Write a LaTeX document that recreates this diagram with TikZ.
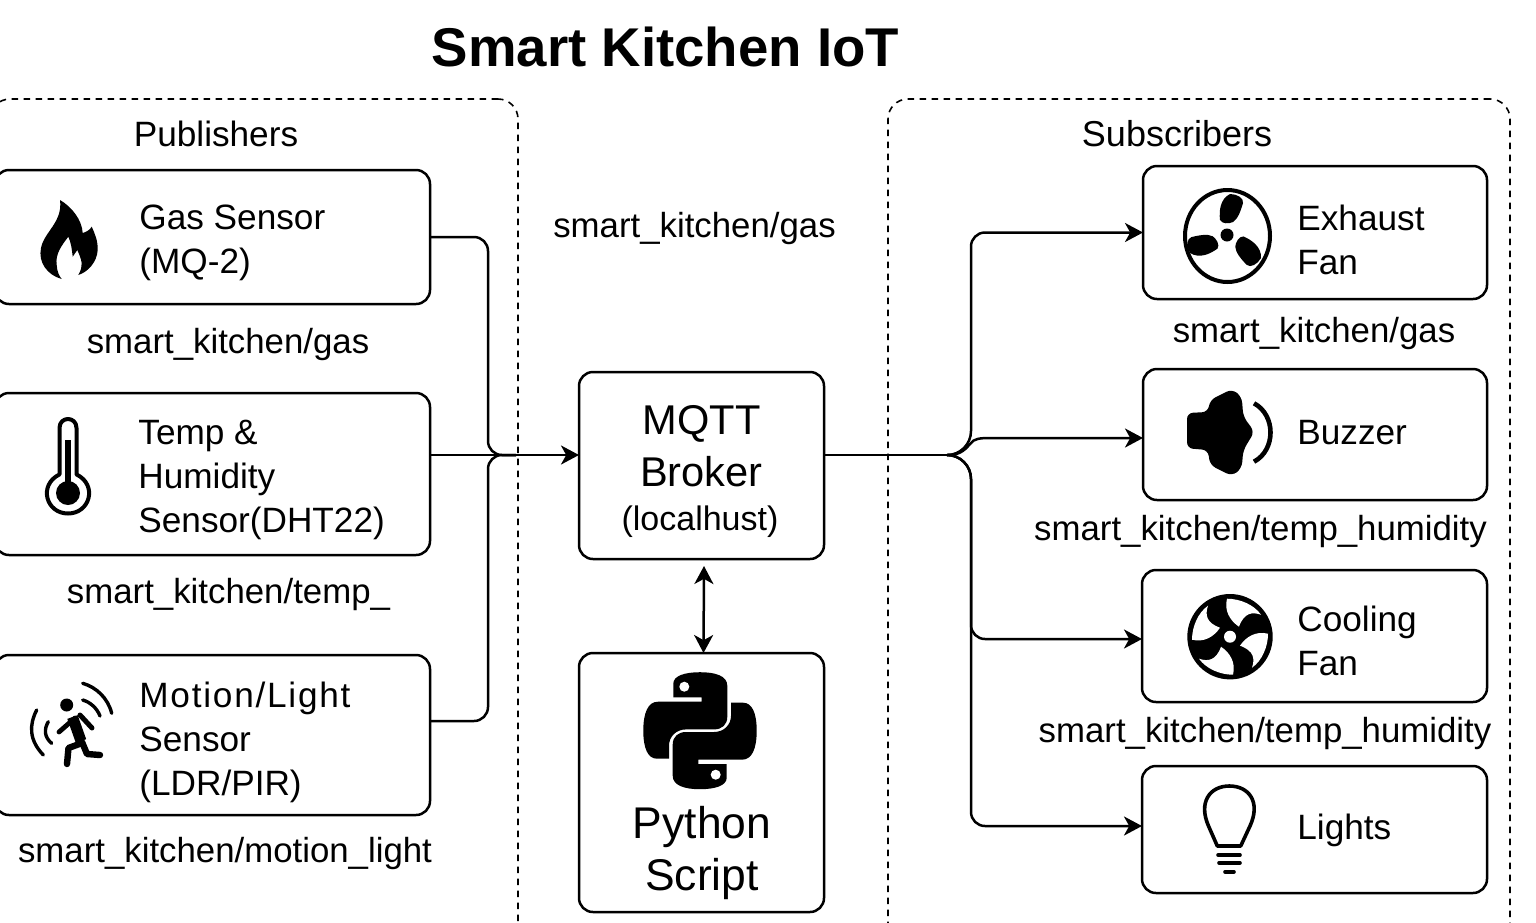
\documentclass[tikz,border=0pt]{standalone}
\usepackage{fontspec}
\setmainfont{Liberation Sans}
\usetikzlibrary{arrows.meta}
\def\fsz#1#2{\fontsize{#1pt}{#2pt}\selectfont}
\tikzset{tip/.tip={Stealth[length=9pt,width=9.5pt,inset=2.6pt]}}

\begin{document}
\begin{tikzpicture}[x=0.5pt,y=-0.5pt,
    box/.style={draw, line width=1.25pt, rounded corners=7pt, inner sep=0pt, outer sep=0pt},
    frame/.style={draw, line width=0.8pt, dash pattern=on 3.2pt off 2.8pt, rounded corners=10pt, inner sep=0pt},
    wire/.style={line width=1.25pt},
    lbl/.style={font={\fsz{17.6}{22}}, align=left, anchor=west, inner sep=0pt},
    topic/.style={font={\fsz{17.4}{22}}, inner sep=0pt},
    icon/.style={line width=2pt, line cap=round, line join=round}]
    \clip (0,0) rectangle (1536,922);
    \node[font={\fsz{27.3}{30}\bfseries}, inner sep=0pt] (title) at (665.5,47) {Smart Kitchen IoT};

    \node[frame, minimum width=264pt, minimum height=430pt] at (254,529) (pub) {};
    \node[frame, minimum width=311pt, minimum height=430pt] at (1199,529) (sub) {};
    \node[topic, font={\fsz{17.6}{22}}] (pubname) at (216,134) {Publishers};
    \node[topic, font={\fsz{18}{22}}] (subname) at (1177,134) {Subscribers};

    \node[box, minimum width=217.5pt, minimum height=67pt] at (212.5,237) (gas) {};
    \node[box, minimum width=217.5pt, minimum height=81pt] at (212.5,474) (temp) {};
    \node[box, minimum width=217.5pt, minimum height=80pt] at (212.5,735) (motion) {};
    \node[lbl] (gastxt) at (139,243) {Gas Sensor\\(MQ-2)};
    \node[lbl] (temptxt) at (138,480) {Temp \&\\Humidity\\Sensor(DHT22)};
    \node[lbl] (motiontxt) at (139,742) {{\addfontfeature{LetterSpace=5}Motion/Light}\\Sensor\\(LDR/PIR)};
    \node[topic] (gastop) at (228,344) {smart\_kitchen/gas};
    \node[topic] (temptop) at (228.5,594) {smart\_kitchen/temp\_};
    \node[topic] (motiontop) at (225,853) {smart\_kitchen/motion\_light};

    \node[topic] (midtop) at (694.5,228) {smart\_kitchen/gas};
    \node[box, minimum width=122.5pt, minimum height=93.5pt] at (701.5,465.5) (broker) {};
    \node[inner sep=0pt, align=center, font={\fsz{20.8}{26}}] (brokertxt) at (701.5,446) {MQTT\\Broker};
    \node[topic, font={\fsz{17}{22}}] (brokerhost) at (700,522) {(localhust)};
    \node[box, minimum width=122.5pt, minimum height=129.5pt] at (701.5,782.5) (script) {};
    \node[inner sep=0pt, align=center, font={\fsz{22.2}{26}}] (scripttxt) at (702,853.5) {Python\\Script};

    \node[box, minimum width=172pt, minimum height=66.5pt] at (1315,232.5) (exhaust) {};
    \node[box, minimum width=172pt, minimum height=65.5pt] at (1315,434.5) (buzzer) {};
    \node[box, minimum width=172.5pt, minimum height=66pt] at (1314.5,636) (cooling) {};
    \node[box, minimum width=172.5pt, minimum height=63.5pt] at (1314.5,829.5) (lights) {};
    \node[lbl] (exhausttxt) at (1297,240) {Exhaust\\Fan};
    \node[lbl] (buzzertxt) at (1297,433) {Buzzer};
    \node[lbl] (coolingtxt) at (1297,641) {Cooling\\Fan};
    \node[lbl] (lightstxt) at (1297,830) {Lights};
    \node[topic] (exhausttop) at (1314,333) {smart\_kitchen/gas};
    \node[topic] (buzzertop) at (1260.5,531) {smart\_kitchen/temp\_humidity};
    \node[topic] (coolingtop) at (1265,733) {smart\_kitchen/temp\_humidity};

    \coordinate (inl) at (488,455);
    \coordinate (inr) at (516,455);
    \coordinate (outl) at (948,455);
    \coordinate (outr) at (971,455);
    \draw[wire] (gas.east) [rounded corners=7pt] -| (inl) [rounded corners=12pt] -- (inr);
    \draw[wire] (motion.east |- 0,721) [rounded corners=7pt] -| (inl) [rounded corners=12pt] -- (inr);
    \draw[wire,-tip] (temp.east |- inl) -- (broker.west |- inl);
    \draw[wire] (broker.east |- outl) -- (outl);
    \draw[wire,-tip] (outl) [rounded corners=12pt] -- (outr) [rounded corners=7pt] |- (exhaust.west);
    \draw[wire,-tip] (outl) .. controls (962,455) and (966,448) .. (971,443) .. controls (974,439) and (979,438) .. (990,438) -- ([yshift=-1.75pt]buzzer.west);
    \draw[wire,-tip] (outl) [rounded corners=12pt] -- (outr) [rounded corners=7pt] |- ([yshift=-1.5pt]cooling.west);
    \draw[wire,-tip] (outl) [rounded corners=12pt] -- (outr) [rounded corners=7pt] |- ([yshift=1.75pt]lights.west);
    \draw[wire,tip-tip] ([xshift=1.25pt,yshift=-3.5pt]broker.south) -- ([xshift=1pt]script.north);

    % flame
    \fill (61.7,279) .. controls (47,275) and (38,262) .. (41,248) .. controls (44,232) and (63,222) .. (60,200)
      .. controls (72,207) and (82,220) .. (82.7,233) .. controls (86,232) and (90,230) .. (91.7,226.7)
      .. controls (95,234) and (98,241) .. (97.7,250) .. controls (97,262) and (88,272) .. (78.3,275)
      .. controls (81,270) and (82,267) .. (81.7,263) .. controls (81,258) and (79,254) .. (77.3,250)
      -- (72.7,256.7) .. controls (72,250) and (71,242) .. (68.3,236.7)
      .. controls (62,245) and (55,254) .. (56.7,265) .. controls (57,271) and (59,276) .. (61.7,279) -- cycle;

    % thermometer
    \draw[icon] (59.5,474.4) -- (59.5,428) .. controls (59.5,416) and (76.5,416) .. (76.5,428) -- (76.5,474.4)
      .. controls (98,485) and (90,513.5) .. (68,513.5) .. controls (46,513.5) and (38,485) .. (59.5,474.4) -- cycle;
    \fill (68,493) circle (12);
    \fill (65,440) rectangle (71,490);

    % running person
    \fill (66.7,705) circle (6.5);
    \draw[line width=5.5pt] (72.5,717) -- (81,741);
    \draw[icon,line width=2.4pt] (75,718) -- (59,732);
    \draw[icon,line width=2.5pt] (80,715) -- (92,728);
    \draw[icon,line width=3.2pt] (82,743) -- (68.5,748) -- (67,764);
    \draw[icon,line width=3.2pt] (82,742) -- (87,754) -- (100,755);
    \draw[icon,line width=1.7pt] (82.7,683.3) .. controls (96,687) and (108,698) .. (111.7,713.3);
    \draw[icon,line width=1.7pt] (82.7,700) .. controls (90,702) and (97,708) .. (100,716);
    \draw[icon,line width=1.7pt] (43.3,755) .. controls (29,740) and (29,725) .. (36.7,710);
    \draw[icon,line width=1.7pt] (51.7,743.3) .. controls (44,737) and (44,729) .. (48.3,721.7);

    % exhaust fan
    \draw[icon] (1227.5,236) ellipse (42.5 and 46);
    \fill (1227,235) circle (6.5);
    \foreach \a in {0,120,240}
      \fill[shift={(1227,235)},rotate=\a] (-7,-15) .. controls (-8,-24) and (-7,-36) .. (3,-41)
        .. controls (10,-41) and (17,-37) .. (16,-32) .. controls (14,-25) and (11,-16) .. (6,-13)
        .. controls (2,-11) and (-5,-11) .. (-7,-15) -- cycle;

    % buzzer
    \fill[rounded corners=3pt] (1187,413) -- (1208,412) -- (1210,400) -- (1232,389) -- (1241.7,396.7) -- (1243.3,416.7)
      -- (1254.5,431.7) -- (1243.3,450) -- (1241.7,468.3) -- (1232,476) -- (1210,465) -- (1208,450) -- (1187,448.3) -- cycle;
    \draw[line width=2.3pt] (1254,403.3) .. controls (1276,415) and (1276,450) .. (1254,461.7);

    % cooling fan
    \fill (1230,636.7) circle (42.7);
    \foreach \a in {0,90,180,270}
      \fill[white,shift={(1230,636.7)},rotate=\a] (-3,-38) .. controls (10,-38) and (24,-32) .. (31,-22)
        .. controls (22,-25) and (14,-24) .. (9,-10) .. controls (0,-16) and (-6,-26) .. (-3,-38) -- cycle;
    \fill[white] (1230,636.7) circle (6);

    % light bulb
    \draw[icon,line width=1.8pt] (1217.3,846) -- (1208.5,826) .. controls (1198,802) and (1210,786) .. (1229.3,786)
      .. controls (1249,786) and (1261,802) .. (1250,826) -- (1240.7,846) -- cycle;
    \draw[icon,line width=1.8pt] (1218,855) -- (1240,855);
    \draw[icon,line width=1.8pt] (1219,862.7) -- (1240,862.7);
    \draw[icon,line width=1.8pt] (1225,871.7) -- (1234,871.7);

    % python logo
    \foreach \a in {0,180} {
      \begin{scope}[shift={(700,730.7)},rotate=\a]
        \fill (-26.7,-33.3) -- (-26.7,-47) .. controls (-26.7,-55) and (-15,-58.5) .. (0,-58.5)
          .. controls (15,-58.5) and (27.3,-55) .. (27.3,-45) -- (27.3,-14) .. controls (27.3,-6) and (22,-1.3) .. (14,-1.3)
          -- (-14,-1.3) .. controls (-24,-1.3) and (-31,6) .. (-31,15) -- (-31,28) -- (-43,28)
          .. controls (-52,28) and (-56.7,18) .. (-56.7,0) .. controls (-56.7,-18) and (-52,-29) .. (-42,-29)
          -- (1.7,-29) -- (1.7,-33.3) -- cycle;
        \fill[white] (-15.7,-44) circle (5);
      \end{scope}
    }
\end{tikzpicture}
\end{document}
